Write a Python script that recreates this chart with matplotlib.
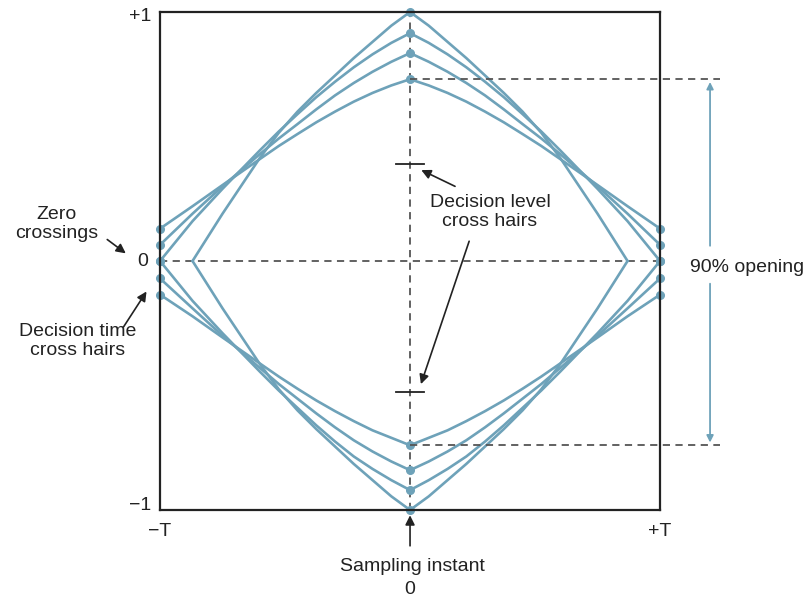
import matplotlib.pyplot as plt
import numpy as np

plt.rcParams['font.family'] = ['Liberation Sans', 'DejaVu Sans']

blue = "#6ea2b9"
dash_col = "#555555"

# time axis (units of T) and the traces of the eye
x_edge = [-1.0, -0.87, -0.75, -0.6, -0.525, -0.45, -0.375, -0.3, -0.225, -0.15, -0.075, 0.0,
          0.075, 0.15, 0.225, 0.3, 0.375, 0.45, 0.525, 0.6, 0.75, 0.87, 1.0]
x_diam = [-0.87, -0.75, -0.6, -0.525, -0.45, -0.375, -0.3, -0.225, -0.15, -0.075, 0.0,
          0.075, 0.15, 0.225, 0.3, 0.375, 0.45, 0.525, 0.6, 0.75, 0.87]

up_a = [0.0, 0.19, 0.415, 0.515, 0.60, 0.675, 0.745, 0.815, 0.88, 0.945, 1.0,
        0.945, 0.88, 0.815, 0.745, 0.675, 0.60, 0.515, 0.415, 0.19, 0.0]
up_b = [0.0, 0.16, 0.29, 0.445, 0.52, 0.59, 0.658, 0.72, 0.778, 0.83, 0.876, 0.915,
        0.876, 0.83, 0.778, 0.72, 0.658, 0.59, 0.52, 0.445, 0.29, 0.16, 0.0]
up_c = [0.065, 0.19, 0.30, 0.43, 0.492, 0.55, 0.609, 0.665, 0.715, 0.76, 0.80, 0.835,
        0.80, 0.76, 0.715, 0.665, 0.609, 0.55, 0.492, 0.43, 0.30, 0.19, 0.065]
up_d = [0.13, 0.22, 0.305, 0.41, 0.462, 0.51, 0.557, 0.60, 0.64, 0.675, 0.705, 0.73,
        0.705, 0.675, 0.64, 0.60, 0.557, 0.51, 0.462, 0.41, 0.305, 0.22, 0.13]

lo_a = [0.0, -0.19, -0.415, -0.515, -0.60, -0.675, -0.745, -0.815, -0.88, -0.945, -1.0,
        -0.945, -0.88, -0.815, -0.745, -0.675, -0.60, -0.515, -0.415, -0.19, 0.0]
lo_b = [0.0, -0.16, -0.29, -0.445, -0.52, -0.59, -0.66, -0.725, -0.785, -0.835, -0.88, -0.92,
        -0.88, -0.835, -0.785, -0.725, -0.66, -0.59, -0.52, -0.445, -0.29, -0.16, 0.0]
lo_c = [-0.07, -0.19, -0.30, -0.43, -0.494, -0.553, -0.612, -0.668, -0.72, -0.765, -0.805, -0.84,
        -0.805, -0.765, -0.72, -0.668, -0.612, -0.553, -0.494, -0.43, -0.30, -0.19, -0.07]
lo_d = [-0.135, -0.222, -0.307, -0.412, -0.464, -0.513, -0.56, -0.603, -0.643, -0.68, -0.71, -0.74,
        -0.71, -0.68, -0.643, -0.603, -0.56, -0.513, -0.464, -0.412, -0.307, -0.222, -0.135]

level_hairs = [0.39, -0.525]
opening = [0.73, -0.74]

fig = plt.figure(figsize=(8.07, 5.97), dpi=100)
ax = fig.add_axes([0.1983, 0.1457, 0.6196, 0.8342])
ax.set_xlim(-1, 1)
ax.set_ylim(-1, 1)
ax.set_xticks([])
ax.set_yticks([])
for s in ax.spines.values():
    s.set_linewidth(1.6)
    s.set_color("#222222")

# dashed cross hairs
ax.plot([-1, 1], [0, 0], ls=(0, (4, 3)), color=dash_col, lw=1.3)
ax.plot([0, 0], [-1, 1], ls=(0, (4, 3)), color=dash_col, lw=1.3)
for y in level_hairs:
    ax.plot([-0.055, 0.055], [y, y], color="#222222", lw=1.3)

# traces
mid_d = len(x_diam) // 2
mid_e = len(x_edge) // 2
for ys in [up_a, lo_a]:
    ax.plot(x_diam, ys, color=blue, lw=1.9, marker="o", ms=5.5, markevery=[mid_d],
            clip_on=False, solid_joinstyle="round")
for ys in [up_b, up_c, up_d, lo_b, lo_c, lo_d]:
    ax.plot(x_edge, ys, color=blue, lw=1.9, marker="o", ms=5.5, markevery=[0, mid_e, -1],
            clip_on=False, solid_joinstyle="round")

# 90% opening
for y in opening:
    ax.plot([0, 1.24], [y, y], ls=(0, (4, 3)), color=dash_col, lw=1.3, clip_on=False)
ax.annotate("", xy=(1.2, opening[0]), xytext=(1.2, 0.05),
            arrowprops=dict(arrowstyle="-|>", color=blue, lw=1.3), annotation_clip=False)
ax.annotate("", xy=(1.2, opening[1]), xytext=(1.2, -0.08),
            arrowprops=dict(arrowstyle="-|>", color=blue, lw=1.3), annotation_clip=False)
ax.text(1.35, -0.025, "90% opening", fontsize=14, ha="center", va="center", color="#222222")

# axis labels
lab = dict(fontsize=14, color="#222222")
ax.text(-1.08, 0.98, "+1", ha="center", va="center", **lab)
ax.text(-1.08, -0.98, "\u22121", ha="center", va="center", **lab)
ax.text(-1.07, 0.0, "0", ha="center", va="center", **lab)
ax.text(-1.0, -1.085, "\u2212T", ha="center", va="center", **lab)
ax.text(1.0, -1.085, "+T", ha="center", va="center", **lab)
ax.text(0.01, -1.225, "Sampling instant", ha="center", va="center", **lab)
ax.text(0.0, -1.32, "0", ha="center", va="center", **lab)

arr = dict(arrowstyle="-|>", color="#222222", lw=1.2, mutation_scale=14)
ax.annotate("", xy=(0, -1.01), xytext=(0, -1.155), arrowprops=arr, annotation_clip=False)

ax.text(-1.415, 0.15, "Zero\ncrossings", ha="center", va="center", linespacing=1.15, **lab)
ax.annotate("", xy=(-1.128, 0.024), xytext=(-1.22, 0.093), arrowprops=arr, annotation_clip=False)

ax.text(-1.33, -0.32, "Decision time\ncross hairs", ha="center", va="center", linespacing=1.15, **lab)
ax.annotate("", xy=(-1.048, -0.113), xytext=(-1.152, -0.274), arrowprops=arr, annotation_clip=False)

ax.text(0.32, 0.195, "Decision level\ncross hairs", ha="center", va="center", linespacing=1.15, **lab)
ax.annotate("", xy=(0.035, level_hairs[0] - 0.02), xytext=(0.19, 0.295), arrowprops=arr)
ax.annotate("", xy=(0.04, level_hairs[1] + 0.02), xytext=(0.24, 0.09), arrowprops=arr)

fig.savefig("out.png", dpi=100)
